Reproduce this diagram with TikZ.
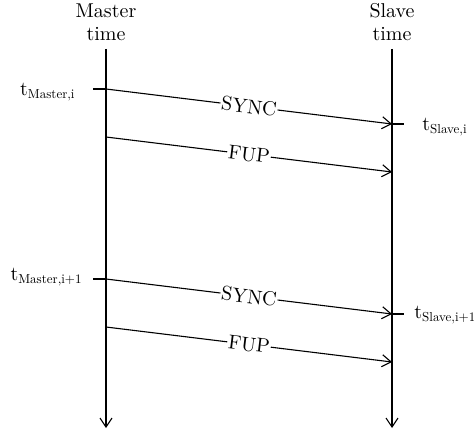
\documentclass[tikz,border=0pt]{standalone}
\usepackage{graphicx}
\usetikzlibrary{arrows.meta}
\newcommand{\tsub}[1]{t\raisebox{-1.6pt}{\scalebox{0.65}{#1}}}
\begin{document}
\begin{tikzpicture}[x=0.5pt,y=-0.5pt,
  axis/.style={line width=0.55pt,-{Straight Barb[length=4.5pt,width=6pt]}},
  msg/.style={line width=0.55pt,-{Straight Barb[length=4.5pt,width=6pt]}},
  tick/.style={line width=0.55pt},
  lbl/.style={fill=white,inner sep=0.5pt,sloped,midway,font=\fontsize{10}{11}\selectfont},
  head/.style={align=center,font=\fontsize{10}{11}\selectfont,inner sep=0pt},
  tlab/.style={inner sep=0pt}]
\useasboundingbox (0,0) rectangle (474,433);
% headers
\node[head,anchor=base] (mh) at (106,40) {Master\\time};
\node[head,anchor=base] (sh) at (392,40) {Slave\\time};
% time lines
\coordinate (mtop) at (106,49);
\coordinate (mbot) at (106,428);
\coordinate (stop) at (392,49);
\coordinate (sbot) at (392,428);
\draw[axis] (mtop) -- (mbot);
\draw[axis] (stop) -- (sbot);
% message points
\coordinate (m1) at (106,89);  \coordinate (s1) at (392,124);
\coordinate (m2) at (106,137); \coordinate (s2) at (392,172);
\coordinate (m3) at (106,279); \coordinate (s3) at (392,314);
\coordinate (m4) at (106,327); \coordinate (s4) at (392,362);
% ticks
\coordinate (mt1) at (93,89);  \coordinate (st1) at (404,124);
\coordinate (mt3) at (93,279); \coordinate (st3) at (404,314);
\draw[tick] (mt1) -- (m1);
\draw[tick] (s1) -- (st1);
\draw[tick] (mt3) -- (m3);
\draw[tick] (s3) -- (st3);
% messages
\draw[msg] (m1) -- node[lbl] (l1) {SYNC} (s1);
\draw[msg] (m2) -- node[lbl] (l2) {FUP} (s2);
\draw[msg] (m3) -- node[lbl] (l3) {SYNC} (s3);
\draw[msg] (m4) -- node[lbl] (l4) {FUP} (s4);
% time labels
\node[tlab,anchor=base east] (tm1) at (75,95) {\tsub{Master,i}};
\node[tlab,anchor=base west] (ts1) at (422,130) {\tsub{Slave,i}};
\node[tlab,anchor=base east] (tm3) at (82,280) {\tsub{Master,i+1}};
\node[tlab,anchor=base west] (ts3) at (414,318) {\tsub{Slave,i+1}};
\end{tikzpicture}
\end{document}
